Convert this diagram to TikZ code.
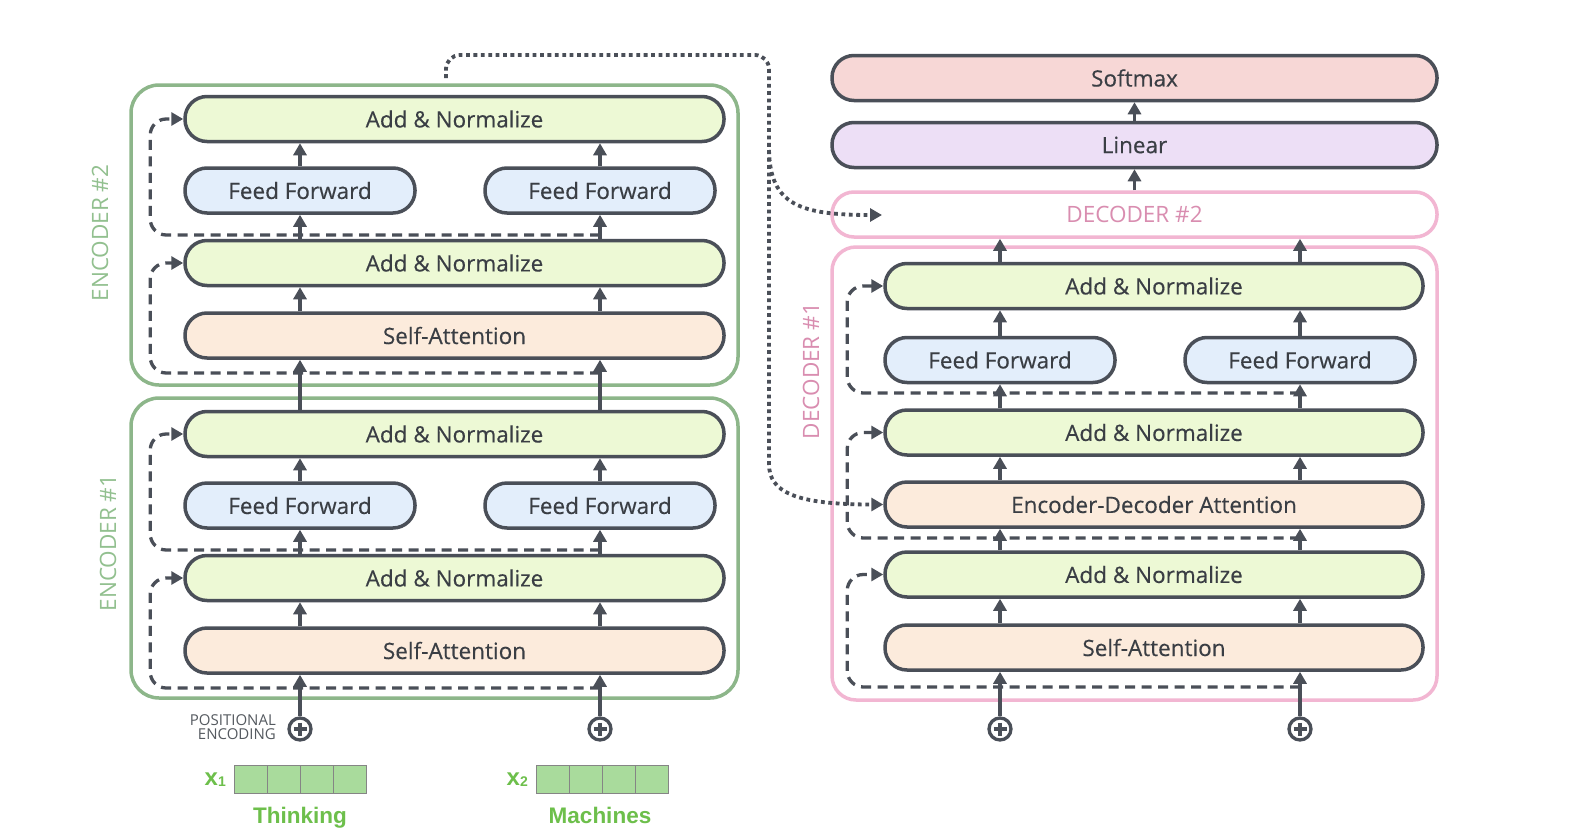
\documentclass[tikz,border=0pt]{standalone}
\usepackage{fontspec}
\setmainfont{Open Sans}
\newfontfamily\libsans{Liberation Sans}
\newfontfamily\lblsans{Open Sans}[FakeBold=0.35]
\usetikzlibrary{arrows.meta,calc}
\definecolor{boxline}{HTML}{4A4F58}
\definecolor{txtc}{HTML}{3A3E44}
\definecolor{anc}{HTML}{EDF9D5}
\definecolor{ffc}{HTML}{E3EEFB}
\definecolor{sac}{HTML}{FCEBDC}
\definecolor{smc}{HTML}{F7D7D6}
\definecolor{linc}{HTML}{EDDFF6}
\definecolor{encg}{HTML}{8DB68A}
\definecolor{encl}{HTML}{92C08F}
\definecolor{decp}{HTML}{F2B6D2}
\definecolor{decl}{HTML}{D98DB0}
\definecolor{tgreen}{HTML}{6DBF4B}
\definecolor{cellc}{HTML}{A9DB9C}
\definecolor{cellb}{HTML}{858585}
\definecolor{pec}{HTML}{555A60}
\begin{document}
\begin{tikzpicture}[x=1pt,y=-1pt,
  blk/.style={draw=boxline, line width=3.5pt, rounded corners=22pt, minimum height=45pt, inner sep=0pt, font=\lblsans\fontsize{22.5}{26}\selectfont, text=txtc},
  wide/.style={blk, minimum width=539pt},
  half/.style={blk, minimum width=230pt},
  dwide/.style={blk, minimum width=538pt},
  top/.style={blk, minimum width=605pt},
  an/.style={fill=anc}, ff/.style={fill=ffc}, sa/.style={fill=sac},
  arr/.style={draw=boxline, line width=3.5pt, -{Triangle[length=12pt,width=13pt]}},
  resid/.style={draw=boxline, line width=3.3pt, dash pattern=on 10pt off 6.5pt, rounded corners=16pt, -{Triangle[length=12pt,width=13pt]}},
  dotl/.style={draw=boxline, line width=3.8pt, dash pattern=on 3.8pt off 3.6pt, -{Triangle[length=12pt,width=13pt]}},
  outerbox/.style={line width=3.5pt, rounded corners=28pt, inner sep=0pt},
  plusc/.style={circle, draw=boxline, line width=3.3pt, minimum size=22pt, inner sep=0pt},
  pluslw/.style={draw=boxline, line width=3.3pt},
  grp/.style={rotate=90, font=\fontsize{22.5}{26}\selectfont},
  cell/.style={draw=cellb, fill=cellc, line width=1pt, minimum width=33pt, minimum height=28pt, inner sep=0pt},
  word/.style={anchor=base, text=tgreen, font=\libsans\bfseries\fontsize{22.5}{24}\selectfont},
]
\fill[white] (0,0) rectangle (1584,835);
\useasboundingbox (0,0) rectangle (1584,835);

% outer groups
\node[outerbox, draw=encg, minimum width=607pt, minimum height=300pt] (enc2) at (434.5,235) {};
\node[outerbox, draw=encg, minimum width=607pt, minimum height=300pt] (enc1) at (434.5,548) {};
\node[outerbox, draw=decp, rounded corners=24pt, minimum width=605pt, minimum height=453pt] (dec1) at (1134.5,473.5) {};

\node[grp, text=encl] (l2) at (100,233) {ENCODER \#2};
\node[grp, text=encl] (l1) at (108,543) {ENCODER \#1};
\node[grp, text=decl] (l3) at (811,371) {DECODER \#1};

% encoder 2
\node[wide, an] (e2a) at (454.5,119) {Add \& Normalize};
\node[half, ff] (e2fl) at (300,190.5) {Feed Forward};
\node[half, ff] (e2fr) at (600,190.5) {Feed Forward};
\node[wide, an] (e2b) at (454.5,263) {Add \& Normalize};
\node[wide, sa] (e2s) at (454.5,335.5) {Self-Attention};
% encoder 1
\node[wide, an] (e1a) at (454.5,434) {Add \& Normalize};
\node[half, ff] (e1fl) at (300,505.5) {Feed Forward};
\node[half, ff] (e1fr) at (600,505.5) {Feed Forward};
\node[wide, an] (e1b) at (454.5,578) {Add \& Normalize};
\node[wide, sa] (e1s) at (454.5,650.5) {Self-Attention};

% decoder 1
\node[dwide, an] (d1a) at (1154,286) {Add \& Normalize};
\node[half, ff] (d1fl) at (1000,360) {Feed Forward};
\node[half, ff] (d1fr) at (1300,360) {Feed Forward};
\node[dwide, an] (d1b) at (1154,432.5) {Add \& Normalize};
\node[dwide, sa] (d1e) at (1154,504.5) {Encoder-Decoder Attention};
\node[dwide, an] (d1c) at (1154,574.5) {Add \& Normalize};
\node[dwide, sa] (d1s) at (1154,647.5) {Self-Attention};

% top of decoder stack
\node[top, draw=decp, fill=white, text=decl, font=\fontsize{22.5}{26}\selectfont] (dec2) at (1134.5,214.5) {DECODER \#2};
\node[top, fill=linc] (lin) at (1134.5,145) {Linear};
\node[top, fill=smc] (soft) at (1134.5,78) {Softmax};

% plus circles
\foreach \n/\x in {p1/300, p2/600, p3/1000, p4/1300} {
  \node[plusc] (\n) at (\x,729) {};
  \draw[pluslw] ($(\n.center)+(-6.5,0)$) -- ($(\n.center)+(6.5,0)$);
  \draw[pluslw] ($(\n.center)+(0,-6.5)$) -- ($(\n.center)+(0,6.5)$);
}

% encoder arrows
\foreach \c/\p in {l/p1, r/p2} {
  \draw[arr] (\p) -- (\p |- e1s.south);
  \draw[arr] (e1s.north -| e1f\c) -- (e1b.south -| e1f\c);
  \draw[arr] (e1b.north -| e1f\c) -- (e1f\c.south);
  \draw[arr] (e1f\c.north) -- (e1a.south -| e1f\c);
  \draw[arr] (e1a.north -| e1f\c) -- (e2s.south -| e1f\c);
  \draw[arr] (e2s.north -| e2f\c) -- (e2b.south -| e2f\c);
  \draw[arr] (e2b.north -| e2f\c) -- (e2f\c.south);
  \draw[arr] (e2f\c.north) -- (e2a.south -| e2f\c);
}

% decoder arrows
\foreach \c/\p in {l/p3, r/p4} {
  \draw[arr] (\p) -- (\p |- d1s.south);
  \draw[arr] (d1s.north -| d1f\c) -- (d1c.south -| d1f\c);
  \draw[arr] (d1c.north -| d1f\c) -- (d1e.south -| d1f\c);
  \draw[arr] (d1e.north -| d1f\c) -- (d1b.south -| d1f\c);
  \draw[arr] (d1b.north -| d1f\c) -- (d1f\c.south);
  \draw[arr] (d1f\c.north) -- (d1a.south -| d1f\c);
  \draw[arr] (d1a.north -| d1f\c) -- (dec2.south -| d1f\c);
}
\draw[arr] (dec2) -- (lin);
\draw[arr] (lin) -- (soft);

% residual connections
\coordinate (re1) at (600,688);
\coordinate (re2) at (600,550);
\coordinate (re3) at (600,373);
\coordinate (re4) at (600,235);
\draw[resid] (re1) -| ($(e1b.west)+(-33,0)$) -- (e1b.west);
\draw[resid] (re2) -| ($(e1a.west)+(-33,0)$) -- (e1a.west);
\draw[resid] (re3) -| ($(e2b.west)+(-33,0)$) -- (e2b.west);
\draw[resid] (re4) -| ($(e2a.west)+(-33,0)$) -- (e2a.west);
\coordinate (rd1) at (1300,687);
\coordinate (rd2) at (1300,538);
\coordinate (rd3) at (1300,393);
\draw[resid] (rd1) -| ($(d1c.west)+(-36,0)$) -- (d1c.west);
\draw[resid] (rd2) -| ($(d1b.west)+(-36,0)$) -- (d1b.west);
\draw[resid] (rd3) -| ($(d1a.west)+(-36,0)$) -- (d1a.west);

% encoder output to decoders
\coordinate (ds) at (446,78);
\coordinate (dc) at (769,55);
\coordinate (dv) at (769,450);
\draw[dotl, rounded corners=14pt] (ds) |- (dc) -- (dv) .. controls (769,492) and (795,504.5) .. (d1e.west);
\coordinate (db) at (769,150);
\coordinate (dt) at (882,215);
\draw[dotl] (db) .. controls (770,205) and (800,215) .. (dt);

% inputs
\node[anchor=east, align=right, text=pec, font=\fontsize{15}{14.5}\selectfont, inner sep=0pt] (pe) at (276,727) {POSITIONAL\\ENCODING};
\foreach \i in {0,...,3} {
  \node[cell] (ca\i) at (250.5+33*\i,779) {};
  \node[cell] (cb\i) at (552.5+33*\i,779) {};
}
\node[anchor=base east, inner sep=0pt, text=tgreen, font=\libsans\bfseries\fontsize{24}{24}\selectfont] (x1) at (226,785) {x\raisebox{-1.5pt}{\fontsize{14}{14}\selectfont 1}};
\node[anchor=base east, inner sep=0pt, text=tgreen, font=\libsans\bfseries\fontsize{24}{24}\selectfont] (x2) at (528,785) {x\raisebox{-1.5pt}{\fontsize{14}{14}\selectfont 2}};
\node[word] (t1) at (300,823) {Thinking};
\node[word] (t2) at (600,823) {Machines};
\end{tikzpicture}
\end{document}
